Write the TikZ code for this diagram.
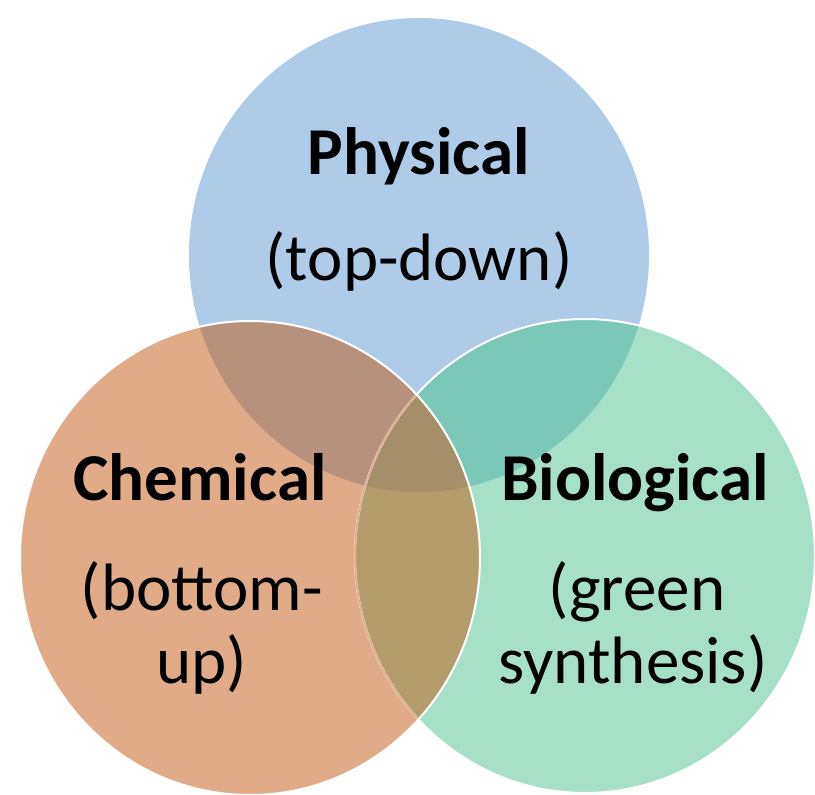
\documentclass[tikz,border=0pt]{standalone}
\usepackage{fontspec}
\setmainfont{Carlito}
\definecolor{cblue}{HTML}{AECBE8}
\definecolor{corange}{HTML}{E2AB88}
\definecolor{cgreen}{HTML}{A6E1C7}
\definecolor{cbo}{HTML}{B8917C}
\definecolor{cbg}{HTML}{7BC7B8}
\definecolor{cog}{HTML}{B49D6B}
\definecolor{cbog}{HTML}{A48F68}
\definecolor{cedge}{HTML}{DDA983}
\tikzset{
  rad/.style={x radius=230pt, y radius=237pt},
  ttl/.style={anchor=base, inner sep=0pt, font=\fontsize{67}{80}\selectfont\bfseries},
  sub/.style={anchor=base, inner sep=0pt, font=\fontsize{67}{80}\selectfont},
  ring/.style={draw=white, line width=2pt}
}
\begin{document}
\begin{tikzpicture}[x=1pt, y=-1pt]
\useasboundingbox (0,0) rectangle (815,795);
\fill[white] (0,0) rectangle (815,795);
\coordinate (pb) at (419,255);
\coordinate (po) at (250,558);
\coordinate (pg) at (585,556);
% base discs
\fill[cblue] (pb) ellipse [rad];
\fill[cgreen] (pg) ellipse [rad];
\fill[corange] (po) ellipse [rad];
% pairwise overlaps
\begin{scope}
  \clip (pb) ellipse [rad];
  \fill[cbo] (po) ellipse [rad];
  \fill[cbg] (pg) ellipse [rad];
\end{scope}
\begin{scope}
  \clip (po) ellipse [rad];
  \fill[cog] (pg) ellipse [rad];
  \clip (pb) ellipse [rad];
  \fill[cbog] (pg) ellipse [rad];
\end{scope}
% outlines
\draw[ring] (pg) ellipse [rad];
\begin{scope}
  \clip (po) ellipse [rad];
  \draw[cedge, line width=1.5pt] (pg) ellipse [rad];
\end{scope}
\draw[ring] (po) ellipse [rad];
% labels
\node[ttl] (phys) at (419,174) {Physical};
\node[sub] (physs) at (419,280) {(top-down)};
\node[ttl] (chem) at (200,500) {Chemical};
\node[sub] (chems1) at (202,610) {(bottom-};
\node[sub] (chems2) at (202,683) {up)};
\node[ttl] (bio) at (635,500) {Biological};
\node[sub] (bios1) at (637,610) {(green};
\node[sub] (bios2) at (633,683) {synthesis)};
\end{tikzpicture}
\end{document}
